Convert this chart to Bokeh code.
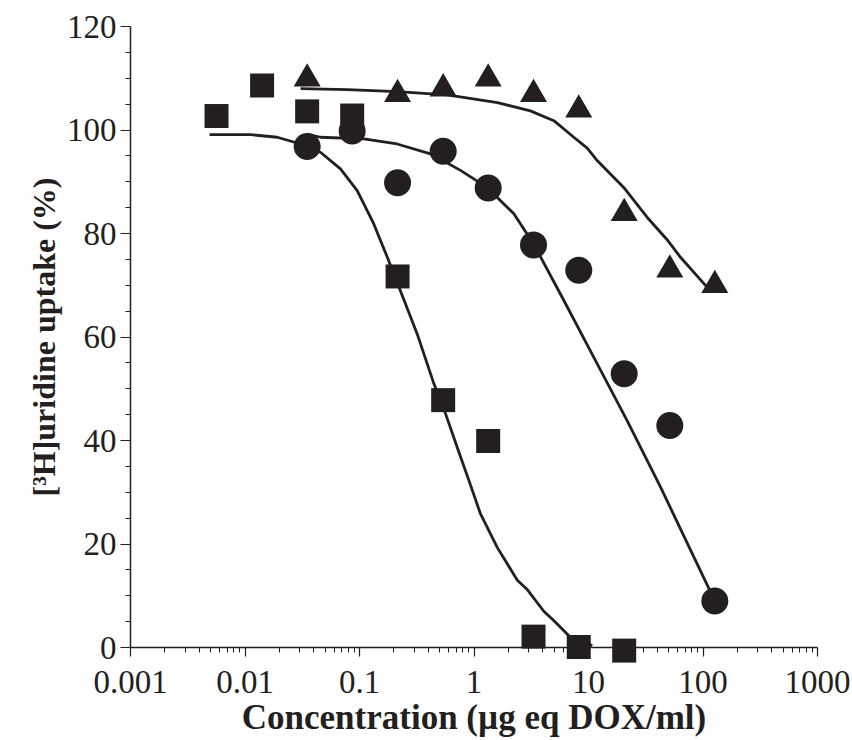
from bokeh.plotting import figure
from bokeh.models import Range1d, FixedTicker, CustomJSTickFormatter, Title
from bokeh.embed import file_html
from bokeh.resources import INLINE

INK = "#231f20"

# ---- data ----
sq_conc = [0.00564, 0.0141, 0.0349, 0.0863, 0.215, 0.538, 1.33, 3.31, 8.22, 20.5]
sq_uptake = [102.7, 108.6, 103.6, 102.8, 71.7, 47.8, 39.9, 2.1, 0.1, -0.6]

ci_conc = [0.0349, 0.0863, 0.215, 0.538, 1.33, 3.31, 8.22, 20.5, 51.3, 126.8]
ci_uptake = [96.8, 99.8, 89.8, 95.9, 88.8, 77.8, 72.9, 52.9, 42.9, 9.0]

tr_conc = [0.0349, 0.215, 0.538, 1.33, 3.31, 8.22, 20.5, 51.3, 126.8]
tr_uptake = [109.9, 106.9, 108.0, 109.9, 106.9, 103.9, 83.9, 73.0, 70.0]

# fitted curves
sq_fit_x = [0.0049, 0.0112, 0.0191, 0.0306, 0.0456, 0.0682, 0.0955, 0.133, 0.175, 0.228,
            0.319, 0.446, 0.564, 0.713, 0.902, 1.14, 1.60, 2.39, 2.92, 4.07, 4.97, 7.44, 10.8]
sq_fit_y = [99.1, 99.1, 98.6, 97.3, 95.7, 92.5, 88.3, 81.9, 75.4, 68.9,
            60.6, 51.0, 45.2, 38.7, 32.3, 25.8, 19.3, 13.0, 11.2, 7.0, 5.2, 1.3, 0.4]

ci_fit_x = [0.0349, 0.0456, 0.109, 0.213, 0.417, 0.762, 1.30, 2.23, 3.33, 6.08,
            11.1, 21.8, 42.6, 83.1, 126.8]
ci_fit_y = [99.2, 98.6, 98.3, 97.3, 95.4, 92.2, 88.9, 83.8, 77.9, 67.1,
            56.1, 43.8, 31.0, 17.5, 9.0]

tr_fit_x = [0.0306, 0.0782, 0.213, 0.583, 1.60, 3.11, 4.98, 7.44, 9.75, 11.9,
            20.3, 32.6, 48.6, 63.6, 108.9]
tr_fit_y = [108.0, 107.8, 107.4, 106.8, 105.3, 103.7, 101.8, 98.6, 96.5, 94.1,
            88.9, 83.1, 78.8, 75.4, 69.6]

x_ticks = [0.001, 0.01, 0.1, 1, 10, 100, 1000]
x_minor = [m * 10.0 ** e for e in range(-3, 3) for m in range(2, 10)]
y_ticks = [0, 20, 40, 60, 80, 100, 120]
y_minor = [v for v in range(5, 120, 5) if v % 20 != 0]

x_title = "Concentration (µg eq DOX/ml)"
y_title = "[³H]uridine uptake (%)"

font = "Liberation Serif"

# ---- figure ----
p = figure(width=852, height=740, x_axis_type="log",
           x_range=Range1d(0.001, 1000), y_range=Range1d(0, 120),
           output_backend="svg", toolbar_location=None,
           min_border_left=130, min_border_right=35,
           min_border_top=26, min_border_bottom=93)
p.grid.visible = False
p.outline_line_color = None
p.background_fill_color = "white"
p.border_fill_color = "white"

lw = 2.8
p.line(sq_fit_x, sq_fit_y, line_width=lw, line_color=INK, level="overlay")
p.line(ci_fit_x, ci_fit_y, line_width=lw, line_color=INK, level="overlay")
p.line(tr_fit_x, tr_fit_y, line_width=lw, line_color=INK, level="overlay")

p.scatter(sq_conc, sq_uptake, marker="square", size=24, fill_color=INK, line_color=None, level="overlay")
p.scatter(ci_conc, ci_uptake, marker="circle", size=27, fill_color=INK, line_color=None, level="overlay")
p.scatter(tr_conc, tr_uptake, marker="triangle", size=27, fill_color=INK, line_color=None, level="overlay")

xa = p.xaxis[0]
xa.ticker = FixedTicker(ticks=x_ticks, minor_ticks=x_minor)
xa.formatter = CustomJSTickFormatter(code="return tick.toString();")
xa.axis_line_color = INK
xa.axis_line_width = 1.5
xa.major_tick_line_color = INK
xa.minor_tick_line_color = INK
xa.major_tick_line_width = 1.2
xa.minor_tick_line_width = 1.0
xa.major_tick_in = 0
xa.major_tick_out = 9
xa.minor_tick_in = 0
xa.minor_tick_out = 5
xa.major_label_text_font = font
xa.major_label_text_font_size = "33px"
xa.major_label_text_color = INK
xa.major_label_standoff = 14

ya = p.yaxis[0]
ya.ticker = FixedTicker(ticks=y_ticks, minor_ticks=y_minor)
ya.axis_line_color = INK
ya.axis_line_width = 1.5
ya.major_tick_line_color = INK
ya.minor_tick_line_color = INK
ya.major_tick_line_width = 1.2
ya.minor_tick_line_width = 1.0
ya.major_tick_in = 0
ya.major_tick_out = 10
ya.minor_tick_in = 0
ya.minor_tick_out = 5
ya.major_label_text_font = font
ya.major_label_text_font_size = "33px"
ya.major_label_text_color = INK
ya.major_label_standoff = 4

p.add_layout(Title(text=x_title, align="center", offset=4, standoff=0,
                   text_font=font, text_font_style="bold", text_font_size="35px",
                   text_color=INK), "below")
p.add_layout(Title(text=y_title, align="center", offset=12, standoff=4,
                   text_font=font, text_font_style="bold", text_font_size="32px",
                   text_color=INK), "left")

open("out.html", "w").write(file_html(p, INLINE))
